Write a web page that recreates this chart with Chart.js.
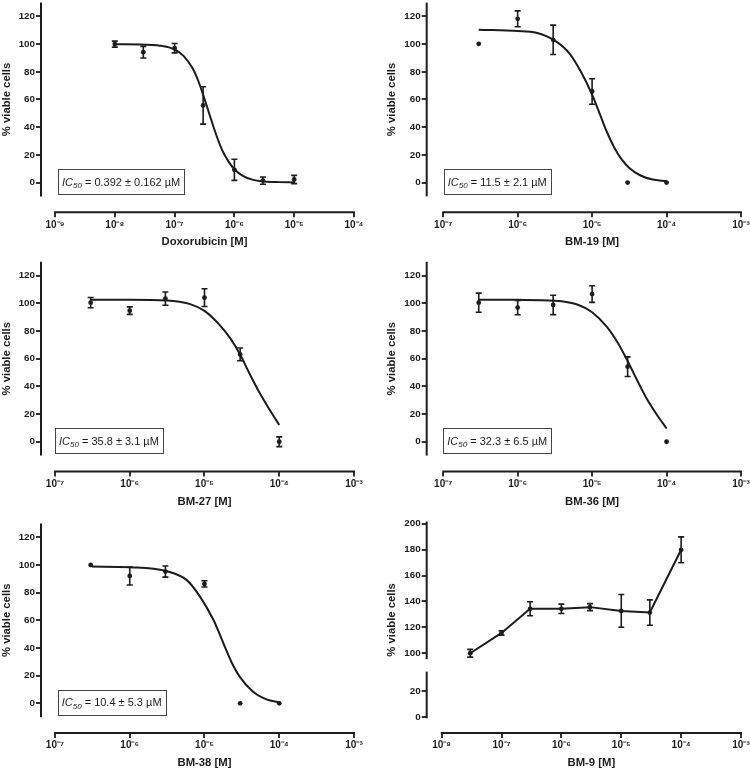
<!DOCTYPE html>
<html>
<head>
<meta charset="utf-8">
<script src="https://cdn.jsdelivr.net/npm/chart.js@4.4.1/dist/chart.umd.min.js"></script>
<style>
  html, body { margin: 0; padding: 0; background: #fff; }
  #wrap { position: relative; width: 750px; height: 770px; }
  #wrap canvas { position: absolute; }
</style>
</head>
<body>
<div id="wrap">
  <canvas id="c1" width="375" height="257" style="left:0;top:0"></canvas>
  <canvas id="c2" width="375" height="257" style="left:375px;top:0"></canvas>
  <canvas id="c3" width="375" height="257" style="left:0;top:257px"></canvas>
  <canvas id="c4" width="375" height="257" style="left:375px;top:257px"></canvas>
  <canvas id="c5" width="375" height="256" style="left:0;top:514px"></canvas>
  <canvas id="c6" width="375" height="256" style="left:375px;top:514px"></canvas>
</div>
<script>
const FONT = '"Liberation Sans", Arial, Helvetica, sans-serif';
const INK = '#1c1c1c';

// tick values
const viabilityTicks = [0, 20, 40, 60, 80, 100, 120];
const bm9UpperTicks = [100, 120, 140, 160, 180, 200];
const bm9LowerTicks = [0, 20];
const doxDecades = [-9, -8, -7, -6, -5, -4];
const bmDecades = [-7, -6, -5, -4, -3];
const bm9Decades = [-8, -7, -6, -5, -4, -3];

// Doxorubicin
const doxConc = [1e-8, 3e-8, 1e-7, 3e-7, 1e-6, 3e-6, 1e-5];
const doxViable = [100, 94.2, 97.1, 55.7, 9.2, 1.4, 2.2];
const doxSem = [2.2, 4.2, 3.4, 13.5, 7.6, 2.6, 3.0];
const doxFitConc = [1e-8, 3.16e-8, 5.62e-8, 1e-7, 1.41e-7, 2e-7, 2.51e-7, 3.16e-7, 3.98e-7, 5.01e-7, 6.31e-7, 7.94e-7, 1e-6, 1.41e-6, 2e-6, 3.16e-6, 5.62e-6, 1e-5];
const doxFitViable = [99.9, 99.6, 98.9, 96.1, 91.5, 82.5, 73, 60.5, 47, 34, 23, 15.3, 9.6, 4.6, 2.1, 0.8, 0.3, 0.1];

// BM-19
const bm19Conc = [3e-7, 1e-6, 3e-6, 1e-5, 3e-5, 1e-4];
const bm19Viable = [100.2, 118.3, 103.1, 65.8, 0, 0];
const bm19Sem = [0, 5.7, 10.6, 9.2, 0, 0];
const bm19FitConc = [3e-7, 1e-6, 1.78e-6, 3.16e-6, 5.01e-6, 7.08e-6, 1e-5, 1.26e-5, 1.58e-5, 2e-5, 2.51e-5, 3.16e-5, 4.47e-5, 6.31e-5, 1e-4];
const bm19FitViable = [110.4, 109.5, 108.2, 102.5, 93, 80, 63.5, 50, 36.5, 25, 16.5, 10.5, 5.1, 2.4, 0.9];

// BM-27
const bm27Conc = [3e-7, 1e-6, 3e-6, 1e-5, 3e-5, 1e-4];
const bm27Viable = [100.5, 94.7, 103.4, 104.1, 63.1, 0];
const bm27Sem = [3.7, 2.7, 4.8, 6.4, 4.6, 3.5];
const bm27FitConc = [3.02e-7, 1e-6, 3.16e-6, 6.31e-6, 1e-5, 1.58e-5, 2.24e-5, 3.02e-5, 3.98e-5, 5.5e-5, 7.41e-5, 1e-4];
const bm27FitViable = [102.5, 102.5, 102.1, 99.6, 94.5, 84.6, 74.3, 62.6, 49.5, 35, 23.3, 12.1];

// BM-36
const bm36Conc = [3e-7, 1e-6, 3e-6, 1e-5, 3e-5, 1e-4];
const bm36Viable = [100.5, 96.9, 98.8, 106.7, 54.2, 0];
const bm36Sem = [6.9, 5.2, 7.0, 6.0, 7.1, 0];
const bm36FitConc = [3.02e-7, 1e-6, 3.16e-6, 6.31e-6, 1e-5, 1.58e-5, 2.24e-5, 3.02e-5, 3.98e-5, 5.5e-5, 7.41e-5, 1e-4];
const bm36FitViable = [102.6, 102.5, 101.9, 99.2, 93.6, 83, 71, 58, 45, 30.5, 19.5, 9.6];

// BM-38
const bm38Conc = [3e-7, 1e-6, 3e-6, 1e-5, 3e-5, 1e-4];
const bm38Viable = [100, 92, 95.2, 86.3, 0, 0];
const bm38Sem = [0, 6.5, 4, 2.3, 0, 0];
const bm38FitConc = [3.09e-7, 1.02e-6, 3.02e-6, 5.75e-6, 8.71e-6, 1.32e-5, 1.58e-5, 1.95e-5, 2.4e-5, 2.95e-5, 4.47e-5, 6.76e-5, 1e-4];
const bm38FitViable = [98.8, 98.3, 95.7, 89.2, 77.1, 60.2, 50.6, 38.6, 27.7, 19.3, 8.4, 2.9, 0.7];

// BM-9 (no fit, points joined)
const bm9Conc = [3e-8, 1e-7, 3e-7, 1e-6, 3e-6, 1e-5, 3e-5, 1e-4];
const bm9Viable = [100, 115.7, 134.3, 134.3, 135.6, 132.7, 131.4, 179.9];
const bm9Sem = [3, 1.7, 5.4, 3.6, 2.7, 12.6, 9.8, 10];

const stdY = [{ axis: 'y', from: -10, to: 130 }];

const panels = [
  { id: 'c1', h: 257, axisX: 41, right: 354, top: 2.6, bottom: 212.3, xMinExp: -9.234, decades: doxDecades,
    xTitle: 'Doxorubicin [M]', conc: doxConc, viable: doxViable, sem: doxSem, fitConc: doxFitConc, fitViable: doxFitViable,
    ic50: '0.392 \u00b1 0.162 \u00b5M', boxDx: 17, yLines: stdY },
  { id: 'c2', h: 257, axisX: 51.7, right: 366, top: 2.6, bottom: 212.3, xMinExp: -7.2, decades: bmDecades,
    xTitle: 'BM-19 [M]', conc: bm19Conc, viable: bm19Viable, sem: bm19Sem, fitConc: bm19FitConc, fitViable: bm19FitViable,
    ic50: '11.5 \u00b1 2.1 \u00b5M', boxDx: 17, yLines: stdY },
  { id: 'c3', h: 257, axisX: 41, right: 354, top: 4.8, bottom: 214.5, xMinExp: -7.187, decades: bmDecades,
    xTitle: 'BM-27 [M]', conc: bm27Conc, viable: bm27Viable, sem: bm27Sem, fitConc: bm27FitConc, fitViable: bm27FitViable,
    ic50: '35.8 \u00b1 3.1 \u00b5M', boxDx: 14, yLines: stdY },
  { id: 'c4', h: 257, axisX: 51.7, right: 366, top: 4.8, bottom: 214.5, xMinExp: -7.2, decades: bmDecades,
    xTitle: 'BM-36 [M]', conc: bm36Conc, viable: bm36Viable, sem: bm36Sem, fitConc: bm36FitConc, fitViable: bm36FitViable,
    ic50: '32.3 \u00b1 6.5 \u00b5M', boxDx: 16.6, yLines: stdY },
  { id: 'c5', h: 256, axisX: 41, right: 354, top: 9.4, bottom: 219.1, xMinExp: -7.187, decades: bmDecades,
    xTitle: 'BM-38 [M]', conc: bm38Conc, viable: bm38Viable, sem: bm38Sem, fitConc: bm38FitConc, fitViable: bm38FitViable,
    ic50: '10.4 \u00b1 5.3 \u00b5M', boxDx: 16.7, yLines: stdY },
  { id: 'c6', h: 256, axisX: 51.7, right: 366, top: 6, bottom: 219, xMinExp: -8.25, decades: bm9Decades,
    xTitle: 'BM-9 [M]', conc: bm9Conc, viable: bm9Viable, sem: bm9Sem, connect: true, broken: true,
    yLines: [{ axis: 'y', from: 95.4, to: 201.7 }, { axis: 'yLow', from: -1, to: 35 }] }
];

const panelById = {};
panels.forEach(p => { panelById[p.id] = p; });

const SUP = { '-': '\u207b', '0': '\u2070', '1': '\u00b9', '2': '\u00b2', '3': '\u00b3', '4': '\u2074',
  '5': '\u2075', '6': '\u2076', '7': '\u2077', '8': '\u2078', '9': '\u2079' };
const powerLabel = v => '10' + String(Math.round(Math.log10(v))).split('').map(c => SUP[c]).join('');

const prism = {
  id: 'prism',
  beforeDatasetsDraw(chart) {
    const ctx = chart.ctx;
    chart.data.datasets.forEach((ds, di) => {
      if (!ds.errorBars) return;
      const meta = chart.getDatasetMeta(di);
      const xs = meta.xScale, ys = meta.yScale;
      ctx.save();
      ctx.strokeStyle = INK;
      ctx.lineWidth = 1.6;
      ds.data.forEach((pt, i) => {
        const e = ds.errorBars[i];
        if (!e) return;
        const x = xs.getPixelForValue(pt.x);
        const y1 = ys.getPixelForValue(pt.y + e);
        const y2 = ys.getPixelForValue(pt.y - e);
        ctx.beginPath();
        ctx.moveTo(x, y1); ctx.lineTo(x, y2);
        ctx.moveTo(x - 3, y1); ctx.lineTo(x + 3, y1);
        ctx.moveTo(x - 3, y2); ctx.lineTo(x + 3, y2);
        ctx.stroke();
      });
      ctx.restore();
    });
  },
  afterDraw(chart) {
    const p = panelById[chart.canvas.id];
    if (!p) return;
    const ctx = chart.ctx;
    const area = chart.chartArea;
    const xs = chart.scales.x;
    ctx.save();
    ctx.strokeStyle = INK;
    ctx.fillStyle = INK;
    ctx.lineWidth = 2;

    // detached axis lines
    const yx = area.left;
    let yTop = Infinity, yBot = -Infinity;
    p.yLines.forEach(seg => {
      const s = chart.scales[seg.axis];
      const a = s.getPixelForValue(seg.to), b = s.getPixelForValue(seg.from);
      yTop = Math.min(yTop, a); yBot = Math.max(yBot, b);
      ctx.beginPath(); ctx.moveTo(yx, a); ctx.lineTo(yx, b); ctx.stroke();
    });
    const xa = xs.getPixelForValue(Math.pow(10, p.decades[0]));
    const xb = xs.getPixelForValue(Math.pow(10, p.decades[p.decades.length - 1]));
    const xy = area.bottom;
    ctx.beginPath(); ctx.moveTo(xa - 0.9, xy); ctx.lineTo(xb + 0.9, xy); ctx.stroke();

    // axis titles
    ctx.font = 'bold 11.3px ' + FONT;
    ctx.textAlign = 'center';
    ctx.textBaseline = 'middle';
    ctx.fillText(p.xTitle, (xa + xb) / 2, xy + 30);
    ctx.save();
    ctx.translate(yx - 34.5, (yTop + yBot) / 2);
    ctx.rotate(-Math.PI / 2);
    ctx.fillText('% viable cells', 0, 0);
    ctx.restore();

    // IC50 box
    if (p.ic50) {
      const ys = chart.scales.y;
      const cy = ys.getPixelForValue(0) - 1;
      const main = ' = ' + p.ic50;
      ctx.textAlign = 'left';
      ctx.textBaseline = 'alphabetic';
      ctx.font = 'italic 11px ' + FONT;
      const wIC = ctx.measureText('IC').width;
      ctx.font = 'italic 8px ' + FONT;
      const wSub = ctx.measureText('50').width;
      ctx.font = '11px ' + FONT;
      const wMain = ctx.measureText(main).width;
      const bx = yx + p.boxDx;
      const bw = wIC + wSub + wMain + 8;
      const bh = 25;
      ctx.lineWidth = 1;
      ctx.strokeStyle = '#444';
      ctx.strokeRect(Math.round(bx) + 0.5, Math.round(cy - bh / 2) + 0.5, Math.round(bw), bh);
      const base = cy + 4;
      let tx = bx + 4;
      ctx.font = 'italic 11px ' + FONT;
      ctx.fillText('IC', tx, base); tx += wIC;
      ctx.font = 'italic 8px ' + FONT;
      ctx.fillText('50', tx, base + 2.5); tx += wSub;
      ctx.font = '11px ' + FONT;
      ctx.fillText(main, tx, base);
    }
    ctx.restore();
  }
};

const gridOpts = {
  display: true,
  drawOnChartArea: false,
  drawTicks: true,
  tickLength: 5,
  tickWidth: 1.8,
  tickColor: INK,
  color: INK,
  lineWidth: 0
};

function buildChart(p) {
  const yScale = (min, max, ticks, extra) => Object.assign({
    type: 'linear',
    position: 'left',
    min: min,
    max: max,
    afterBuildTicks: s => { s.ticks = ticks.map(v => ({ value: v })); },
    afterFit: s => { s.width = p.axisX; s.paddingTop = 0; s.paddingBottom = 0; },
    ticks: { font: { size: 9.8, weight: 'bold' }, color: INK, padding: 1, callback: v => String(v) },
    grid: gridOpts,
    border: { display: false }
  }, extra || {});

  const scales = {
    x: {
      type: 'logarithmic',
      min: Math.pow(10, p.xMinExp),
      max: Math.pow(10, p.decades[p.decades.length - 1]),
      afterBuildTicks: s => { s.ticks = p.decades.map(d => ({ value: Math.pow(10, d) })); },
      afterFit: s => { s.height = p.h - p.bottom; s.paddingLeft = 0; s.paddingRight = 0; },
      ticks: { font: { size: 10, weight: 'bold' }, color: INK, padding: 1.5, maxRotation: 0, autoSkip: false, callback: v => powerLabel(v) },
      grid: gridOpts,
      border: { display: false }
    }
  };
  if (p.broken) {
    scales.y = yScale(90.9, 202.9, bm9UpperTicks, { stack: 'bm9', stackWeight: 145, weight: 1 });
    scales.yLow = yScale(-12.4, 40.1, bm9LowerTicks, { stack: 'bm9', stackWeight: 68, weight: 0 });
  } else {
    scales.y = yScale(-21.5, 130, viabilityTicks);
  }

  const toXY = (xs, ys) => xs.map((x, i) => ({ x: x, y: ys[i] }));
  const datasets = [{
    data: toXY(p.conc, p.viable),
    errorBars: p.sem,
    showLine: !!p.connect,
    borderColor: INK,
    borderWidth: 2,
    tension: 0,
    pointRadius: 2.4,
    pointBackgroundColor: INK,
    pointBorderWidth: 0,
    yAxisID: 'y'
  }];
  if (p.fitConc) {
    datasets.push({
      data: toXY(p.fitConc, p.fitViable),
      showLine: true,
      borderColor: INK,
      borderWidth: 2,
      pointRadius: 0,
      cubicInterpolationMode: 'monotone',
      yAxisID: 'y'
    });
  }

  return new Chart(document.getElementById(p.id), {
    type: 'line',
    data: { datasets: datasets },
    options: {
      responsive: false,
      animation: false,
      devicePixelRatio: 1,
      events: [],
      layout: { autoPadding: false, padding: { left: 0, top: p.top, right: 375 - p.right, bottom: 0 } },
      plugins: { legend: { display: false }, tooltip: { enabled: false } },
      scales: scales
    },
    plugins: [prism]
  });
}

Chart.defaults.font.family = FONT;
Chart.defaults.color = INK;
panels.forEach(buildChart);
</script>
</body>
</html>
